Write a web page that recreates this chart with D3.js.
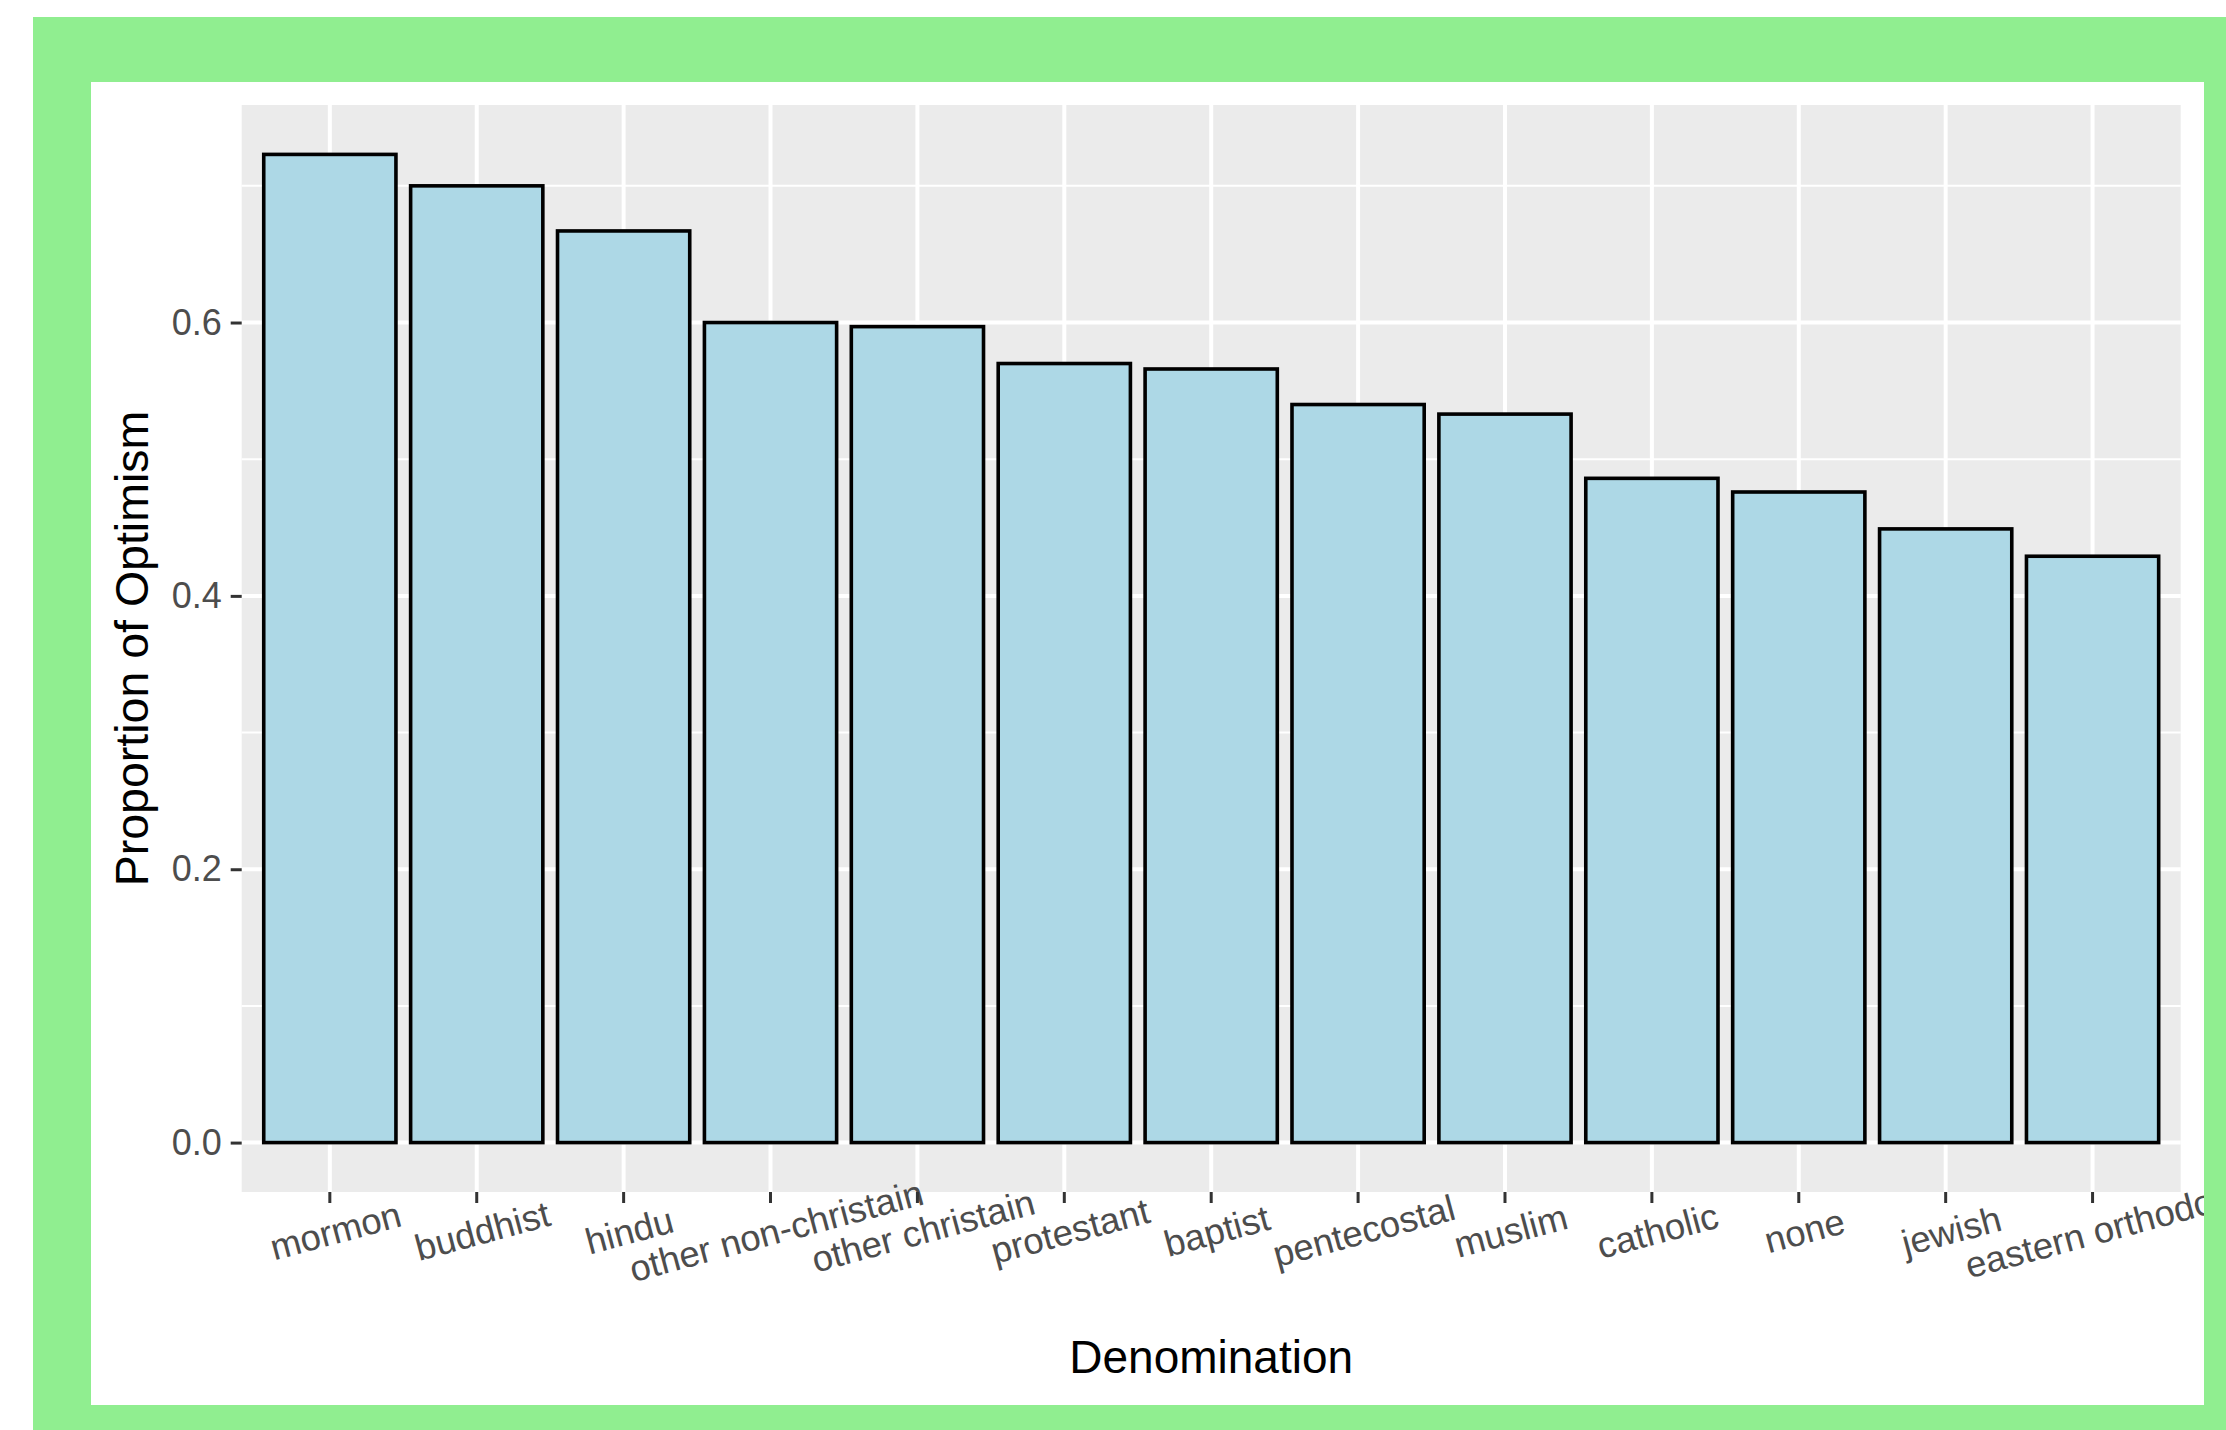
<!DOCTYPE html>
<html>
<head>
<meta charset="utf-8">
<script src="https://cdn.jsdelivr.net/npm/d3@7"></script>
<style>
  body { margin: 0; background: #fff; }
  svg { display: block; font-family: "Liberation Sans", Arial, Helvetica, sans-serif; }
</style>
</head>
<body>
<div id="chart"></div>
<script>
const width = 2226, height = 1430;

// data
const categories = ["mormon", "buddhist", "hindu", "other non-christain", "other christain",
    "protestant", "baptist", "pentecostal", "muslim", "catholic", "none", "jewish", "eastern orthodox"];
const values = [0.723, 0.700, 0.667, 0.600, 0.597, 0.570, 0.566, 0.540, 0.533, 0.486, 0.476, 0.449, 0.429];
const yTicks = [0, 0.2, 0.4, 0.6];
const yMinor = [0.1, 0.3, 0.5, 0.7];

const panel = { left: 241.7, right: 2180.7, top: 105, bottom: 1192 };

const svg = d3.select("#chart").append("svg")
    .attr("width", width)
    .attr("height", height);

// green frame and white plot background
svg.append("rect")
    .attr("x", 33).attr("y", 17)
    .attr("width", width).attr("height", height)
    .attr("fill", "#90EE90");
svg.append("rect")
    .attr("x", 91).attr("y", 82)
    .attr("width", 2204 - 91).attr("height", 1405 - 82)
    .attr("fill", "#fff");

svg.append("clipPath").attr("id", "plotclip")
    .append("rect")
    .attr("x", 91).attr("y", 82)
    .attr("width", 2204 - 91).attr("height", 1405 - 82);

const g = svg.append("g").attr("clip-path", "url(#plotclip)");

const x = d3.scaleBand()
    .domain(categories)
    .range([panel.left, panel.right])
    .paddingInner(0.1)
    .paddingOuter(0.15);

const ymax = d3.max(values);
const y = d3.scaleLinear()
    .domain([-ymax * 0.05, ymax * 1.05])
    .range([panel.bottom, panel.top]);

// panel
g.append("rect")
    .attr("x", panel.left).attr("y", panel.top)
    .attr("width", panel.right - panel.left)
    .attr("height", panel.bottom - panel.top)
    .attr("fill", "#EBEBEB");

// grid lines
g.selectAll(".minor")
    .data(yMinor)
    .enter().append("line")
    .attr("x1", panel.left).attr("x2", panel.right)
    .attr("y1", d => y(d)).attr("y2", d => y(d))
    .attr("stroke", "#fff")
    .attr("stroke-width", 2);

g.selectAll(".major-y")
    .data(yTicks)
    .enter().append("line")
    .attr("x1", panel.left).attr("x2", panel.right)
    .attr("y1", d => y(d)).attr("y2", d => y(d))
    .attr("stroke", "#fff")
    .attr("stroke-width", 4);

g.selectAll(".major-x")
    .data(categories)
    .enter().append("line")
    .attr("x1", d => x(d) + x.bandwidth() / 2)
    .attr("x2", d => x(d) + x.bandwidth() / 2)
    .attr("y1", panel.top).attr("y2", panel.bottom)
    .attr("stroke", "#fff")
    .attr("stroke-width", 4);

// bars
g.selectAll(".bar")
    .data(categories)
    .enter().append("rect")
    .attr("x", d => x(d))
    .attr("width", x.bandwidth())
    .attr("y", (d, i) => y(values[i]))
    .attr("height", (d, i) => y(0) - y(values[i]))
    .attr("fill", "#ADD8E6")
    .attr("stroke", "#000")
    .attr("stroke-width", 3.6);

// y axis
const yAxis = g.append("g")
    .attr("transform", `translate(${panel.left},0)`)
    .call(d3.axisLeft(y).tickValues(yTicks).tickFormat(d3.format(".1f")).tickSize(11).tickPadding(9));
yAxis.select(".domain").remove();
yAxis.selectAll(".tick line").attr("stroke", "#333").attr("stroke-width", 3);
yAxis.selectAll(".tick text")
    .attr("fill", "#4D4D4D")
    .style("font-size", "36px");

// x axis
const xAxis = g.append("g")
    .attr("transform", `translate(0,${panel.bottom})`)
    .call(d3.axisBottom(x).tickSize(11).tickPadding(0));
xAxis.select(".domain").remove();
xAxis.selectAll(".tick line").attr("stroke", "#333").attr("stroke-width", 3);
xAxis.selectAll(".tick text")
    .attr("fill", "#4D4D4D")
    .style("font-size", "36.5px")
    .attr("y", 0).attr("dy", null)
    .attr("text-anchor", "middle")
    .attr("transform", "translate(2,25) rotate(-15) translate(0,27)");

// axis titles
g.append("text")
    .attr("x", (panel.left + panel.right) / 2)
    .attr("y", 1373)
    .attr("text-anchor", "middle")
    .style("font-size", "46px")
    .text("Denomination");

g.append("text")
    .attr("transform", `translate(148,${(panel.top + panel.bottom) / 2}) rotate(-90)`)
    .attr("text-anchor", "middle")
    .style("font-size", "46.5px")
    .text("Proportion of Optimism");
</script>
</body>
</html>
